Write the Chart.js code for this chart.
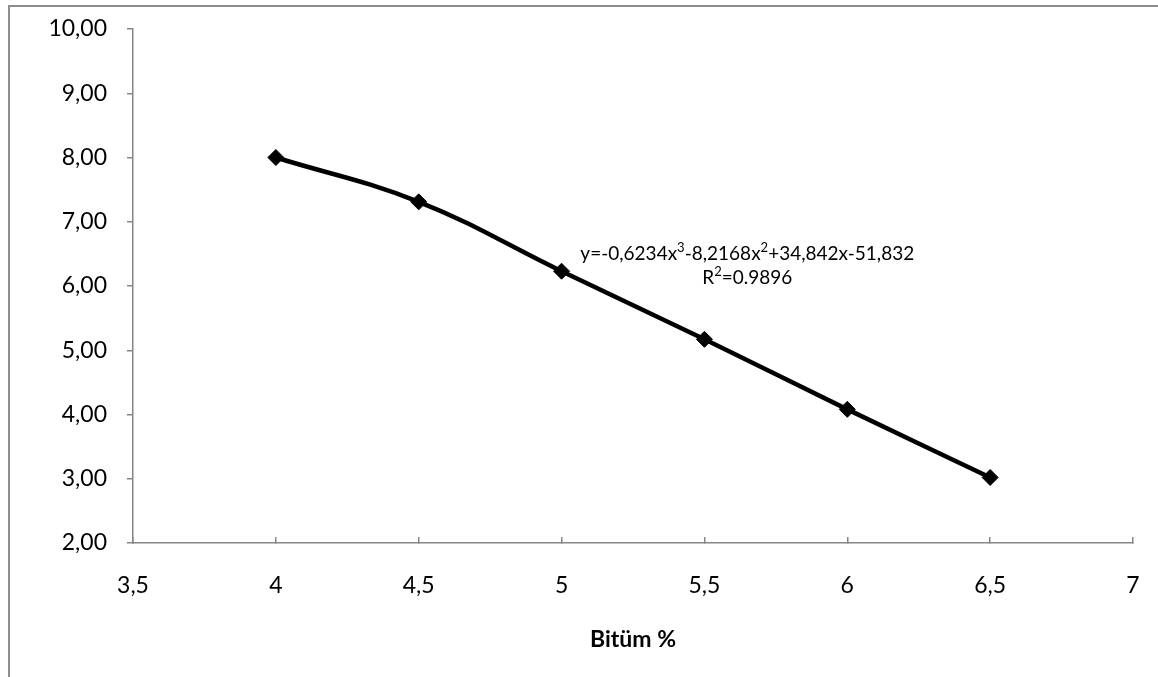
<!DOCTYPE html>
<html>
<head>
<meta charset="utf-8">
<script src="https://cdn.jsdelivr.net/npm/chart.js@4.4.0/dist/chart.umd.min.js"></script>
<style>
  html, body { margin: 0; padding: 0; background: #fff; overflow: hidden; }
  #wrap { position: relative; width: 1158px; height: 677px; overflow: hidden; }
  #frame { position: absolute; left: 8px; top: 5px; width: 1200px; height: 720px; border: 2px solid #8c8c8c; box-sizing: border-box; }
  #chart { position: absolute; left: 0; top: 0; }
</style>
</head>
<body>
<div id="wrap">
  <div id="frame"></div>
  <canvas id="chart" width="1158" height="677"></canvas>
</div>
<script>
'use strict';

// data
let bitumen = [4, 4.5, 5, 5.5, 6, 6.5];
let values = [8.00, 7.31, 6.23, 5.17, 4.08, 3.02];
let xRange = [3.5, 7];
let yRange = [2, 10];
let equationLines = ['y=-0,6234x³-8,2168x²+34,842x-51,832', 'R²=0.9896'];
let equationAt = [5.65, 6.5, 6.13]; // x, y of line 1, y of line 2
let axisTitle = 'Bitüm %';

let canvasElem = document.getElementById('chart');
let axisGray = '#868686';
let fontFamily = 'Lato, "Open Sans", sans-serif';

let points = bitumen.map((x, i) => ({ x: x, y: values[i] }));

// draws a line of text centred on cx, with ² and ³ as raised smaller digits
function drawWithSuperscripts(ctx, text, cx, cy, size) {
  let supMap = { '²': '2', '³': '3' };
  let normalFont = size + 'px ' + fontFamily;
  let supFont = Math.round(size * 0.68) + 'px ' + fontFamily;
  let parts = [];
  let buf = '';
  for (let ch of text) {
    if (supMap[ch]) {
      if (buf) parts.push({ t: buf, sup: false });
      parts.push({ t: supMap[ch], sup: true });
      buf = '';
    } else {
      buf += ch;
    }
  }
  if (buf) parts.push({ t: buf, sup: false });

  let total = 0;
  for (let p of parts) {
    ctx.font = p.sup ? supFont : normalFont;
    p.w = ctx.measureText(p.t).width;
    total += p.w;
  }
  let x = cx - total / 2;
  ctx.textAlign = 'left';
  for (let p of parts) {
    ctx.font = p.sup ? supFont : normalFont;
    ctx.textBaseline = 'middle';
    ctx.fillText(p.t, x, p.sup ? cy - size * 0.3 : cy);
    x += p.w;
  }
}

let equationPlugin = {
  id: 'equation',
  afterDatasetsDraw(chart) {
    let ctx = chart.ctx;
    let xs = chart.scales.x;
    let ys = chart.scales.y;
    ctx.save();
    ctx.fillStyle = '#000';
    drawWithSuperscripts(ctx, equationLines[0], xs.getPixelForValue(equationAt[0]), ys.getPixelForValue(equationAt[1]), 19);
    drawWithSuperscripts(ctx, equationLines[1], xs.getPixelForValue(equationAt[0]), ys.getPixelForValue(equationAt[2]), 19);
    ctx.restore();
  }
};

let chartObj = {
  type: 'scatter',
  data: {
    datasets: [{
      data: points,
      showLine: true,
      tension: 0.4,
      borderColor: '#000',
      borderWidth: 4.5,
      backgroundColor: '#000',
      pointStyle: 'rectRot',
      pointRadius: 8,
      pointBorderWidth: 1,
      pointBorderColor: '#000',
      pointBackgroundColor: '#000'
    }]
  },
  options: {
    responsive: false,
    devicePixelRatio: 1,
    animation: false,
    layout: { padding: { left: 0, right: 25, top: 29, bottom: 0 } },
    plugins: {
      legend: { display: false },
      tooltip: { enabled: false }
    },
    scales: {
      x: {
        type: 'linear',
        min: xRange[0],
        max: xRange[1],
        afterFit(scale) {
          scale.height = 134;
          scale.paddingLeft = 0;
          scale.paddingRight = 0;
        },
        grid: { drawOnChartArea: false, color: axisGray, lineWidth: 1.5, tickLength: -6 },
        border: { color: axisGray, width: 1.5 },
        ticks: {
          stepSize: 0.5,
          padding: 35,
          color: '#000',
          font: { family: fontFamily, size: 23 },
          callback: (v) => String(v).replace('.', ',')
        },
        title: {
          display: true,
          text: axisTitle,
          color: '#000',
          font: { family: fontFamily, size: 23, weight: 'bold' },
          padding: { top: 0, bottom: 24 }
        }
      },
      y: {
        min: yRange[0],
        max: yRange[1],
        afterFit(scale) {
          scale.width = 133;
          scale.paddingTop = 0;
          scale.paddingBottom = 0;
        },
        grid: { drawOnChartArea: false, color: axisGray, lineWidth: 1.5, tickLength: 6 },
        border: { color: axisGray, width: 1.5 },
        ticks: {
          stepSize: 1,
          padding: 20,
          color: '#000',
          font: { family: fontFamily, size: 23 },
          callback: (v) => v.toFixed(2).replace('.', ',')
        }
      }
    }
  },
  plugins: [equationPlugin]
};

new Chart(canvasElem, chartObj); //eslint-disable-line
</script>
</body>
</html>
